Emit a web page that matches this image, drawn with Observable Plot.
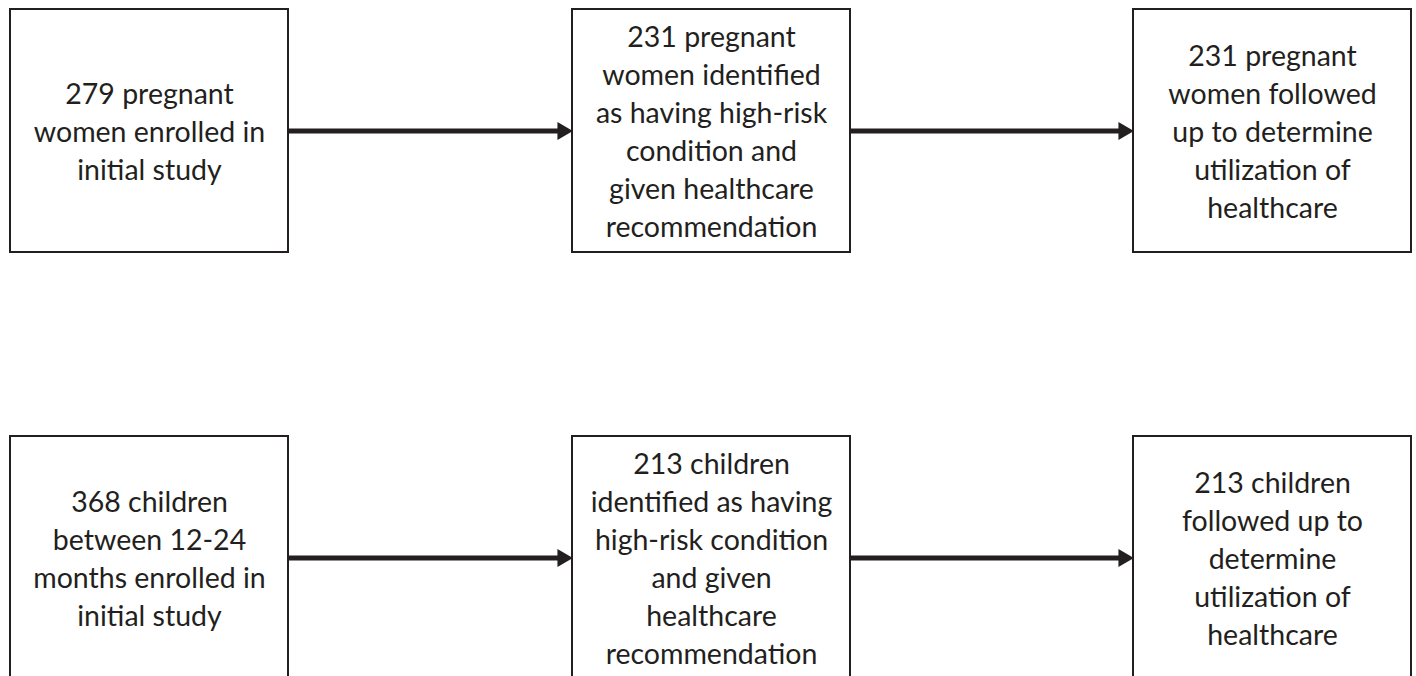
<!DOCTYPE html>
<html>
<head>
<meta charset="utf-8">
<script src="https://cdn.jsdelivr.net/npm/d3@7"></script>
<script src="https://cdn.jsdelivr.net/npm/@observablehq/plot@0.6"></script>
<style>
html, body { margin: 0; padding: 0; background: #fff; overflow: hidden; }
</style>
</head>
<body>
<div id="chart"></div>
<script>
// Data: flow steps per cohort (labels only)
const rows = ["pregnant", "children"];
const pregnantSteps = [
  "279 pregnant\nwomen enrolled in\ninitial study",
  "231 pregnant\nwomen identified\nas having high-risk\ncondition and\ngiven healthcare\nrecommendation",
  "231 pregnant\nwomen followed\nup to determine\nutilization of\nhealthcare"
];
const childSteps = [
  "368 children\nbetween 12-24\nmonths enrolled in\ninitial study",
  "213 children\nidentified as having\nhigh-risk condition\nand given\nhealthcare\nrecommendation",
  "213 children\nfollowed up to\ndetermine\nutilization of\nhealthcare"
];

// Layout (pixels)
const W = 1416, H = 676;
const colLeft = [10, 572, 1133];
const boxW = 278;
const rowTop = [9, 436];
const boxH = 243;
const ink = "#231f20";

const boxes = [];
[pregnantSteps, childSteps].forEach((steps, r) => {
  steps.forEach((label, c) => {
    boxes.push({row: rows[r], col: c, label,
      x1: colLeft[c], x2: colLeft[c] + boxW,
      y1: rowTop[r], y2: rowTop[r] + boxH});
  });
});
const arrows = [];
rows.forEach((row, r) => {
  for (let c = 0; c < 2; c++) {
    const yc = rowTop[r] + boxH / 2;
    arrows.push({row, x1: colLeft[c] + boxW, x2: colLeft[c + 1], y: yc});
  }
});

const headR = 6.6;
const fs = 28.5;
const chart = Plot.plot({
  width: W, height: H,
  margin: 0,
  x: {domain: [0, W], range: [0, W], axis: null},
  y: {domain: [0, H], range: [0, H], axis: null},
  style: {background: "#fff", fontFamily: "Lato, 'Open Sans', sans-serif"},
  marks: [
    Plot.rect(boxes, {x1: "x1", x2: "x2", y1: "y1", y2: "y2", fill: "#fff", stroke: ink, strokeWidth: 2}),
    Plot.link(arrows, {x1: "x1", x2: d => d.x2 - 8, y1: "y", y2: "y", stroke: ink, strokeWidth: 5}),
    Plot.dot(arrows, {x: d => d.x2 - headR * 1.5, y: "y", symbol: "triangle", r: headR, rotate: 90, fill: ink, stroke: "none"}),
    Plot.text(boxes, {x: d => (d.x1 + d.x2) / 2, y: d => (d.y1 + d.y2) / 2 - 1, text: "label",
      fontSize: fs, lineHeight: 38 / fs, fill: ink, textAnchor: "middle", lineAnchor: "middle"})
  ]
});
document.getElementById("chart").append(chart);
</script>
</body>
</html>
